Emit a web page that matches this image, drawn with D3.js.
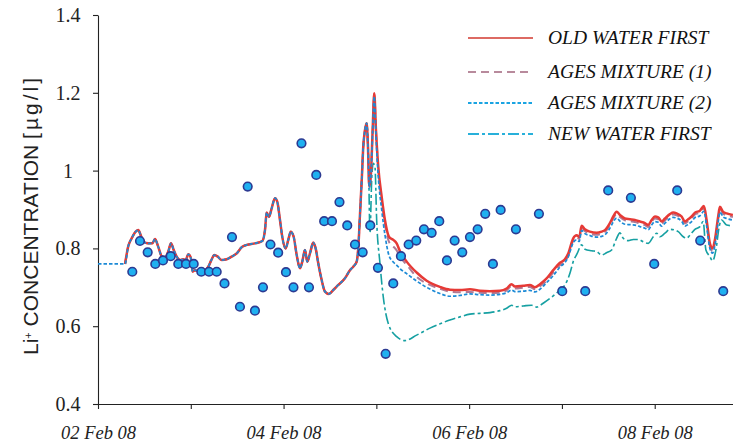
<!DOCTYPE html>
<html><head><meta charset="utf-8">
<script src="https://cdn.jsdelivr.net/npm/d3@7"></script>
<style>body{margin:0;background:#fff} svg{display:block}</style>
</head><body><svg id="c" width="733" height="443"></svg>
<script>
// ---- DATA (hours since 02 Feb 2008 00:00, Li+ concentration µg/l) ----
const yTicks = [0.4, 0.6, 0.8, 1.0, 1.2, 1.4];
const yTickLabels = ["0.4", "0.6", "0.8", "1", "1.2", "1.4"];
const dayTicks = ["2008-02-02","2008-02-03","2008-02-04","2008-02-05","2008-02-06","2008-02-07","2008-02-08"];
const dayTickLabels = ["02 Feb 08","","04 Feb 08","","06 Feb 08","","08 Feb 08"];
const seriesNames = ["OLD WATER FIRST","AGES MIXTURE (1)","AGES MIXTURE (2)","NEW WATER FIRST"];

// shared part of all simulated curves (before they diverge)
const sharedHours = [7.0,7.84,8.72,9.75,10.42,11.04,11.72,13.01,14.04,14.74,15.59,16.47,17.33,18.18,18.88,19.58,20.35,21.21,22.06,22.68,23.35,23.97,24.49,25.09,25.78,26.64,27.67,28.53,29.41,30.08,30.96,31.99,33.28,34.58,35.87,37.16,38.46,40.60,42.49,43.19,43.63,44.22,44.92,45.78,46.37,47.07,47.66,48.54,49.22,49.84,50.61,51.39,52.24,52.84,53.53,54.13,54.83,55.68,56.30,56.97,57.85,58.71,59.74,60.85,62.15,63.88,65.17,66.03,66.91,67.37,67.76,68.28,68.61,69.05,69.49];
const sharedValues = [0.760,0.806,0.826,0.843,0.847,0.834,0.817,0.813,0.813,0.824,0.804,0.780,0.777,0.792,0.813,0.796,0.779,0.770,0.772,0.770,0.785,0.777,0.740,0.744,0.742,0.744,0.744,0.753,0.772,0.783,0.779,0.770,0.772,0.779,0.787,0.803,0.809,0.813,0.819,0.847,0.892,0.881,0.903,0.929,0.920,0.873,0.830,0.800,0.822,0.843,0.830,0.783,0.749,0.766,0.796,0.766,0.787,0.815,0.800,0.762,0.719,0.689,0.683,0.693,0.706,0.723,0.744,0.753,0.766,0.809,0.886,0.989,1.061,1.104,1.122];

// AGES MIXTURE (2) starts earlier with a flat initial value
const mix2LeadHours = [0, 7.0];
const mix2LeadValues = [0.760, 0.760];

// tails after divergence
const tailHours = [69.83,70.16,70.60,71.04,71.46,71.90,72.49,73.37,74.22,75.26,76.37,77.25,78.10,79.84,82.42,85.01,88.45,91.03,93.62,96.21,98.79,101.38,103.97,105.70,106.99,107.84,109.99,111.72,113.02,114.31,116.04,117.75,119.48,120.78,121.63,122.92,123.80,124.48,125.09,125.95,127.24,128.97,130.27,131.12,132.41,133.27,134.15,135.00,136.29,137.59,138.88,140.17,141.47,142.32,143.20,144.05,144.91,145.79,146.64,147.93,148.79,149.67,150.96,151.81,152.66,153.54,154.40,155.69,156.72,157.42,158.27,158.97,159.57,160.42,160.86,161.71,162.59,164.22];
const oldTail = [1.061,0.959,0.993,1.104,1.199,1.104,1.010,0.933,0.873,0.830,0.822,0.813,0.793,0.766,0.738,0.717,0.701,0.694,0.693,0.695,0.691,0.690,0.691,0.697,0.708,0.702,0.704,0.706,0.700,0.708,0.723,0.744,0.763,0.772,0.787,0.826,0.834,0.829,0.858,0.849,0.843,0.840,0.843,0.847,0.865,0.882,0.894,0.886,0.877,0.875,0.873,0.869,0.865,0.860,0.873,0.882,0.880,0.869,0.877,0.888,0.892,0.890,0.882,0.869,0.875,0.882,0.892,0.897,0.909,0.873,0.813,0.800,0.822,0.882,0.907,0.894,0.890,0.886];
const mix1Tail = [1.061,0.959,0.993,1.104,1.197,1.104,1.005,0.925,0.862,0.817,0.805,0.795,0.779,0.758,0.727,0.710,0.696,0.689,0.687,0.688,0.686,0.685,0.686,0.692,0.703,0.697,0.699,0.701,0.695,0.703,0.717,0.738,0.757,0.766,0.781,0.820,0.829,0.824,0.853,0.844,0.838,0.835,0.838,0.842,0.860,0.877,0.889,0.881,0.872,0.870,0.868,0.864,0.860,0.855,0.868,0.877,0.875,0.864,0.872,0.883,0.887,0.885,0.877,0.864,0.870,0.877,0.887,0.892,0.904,0.866,0.806,0.793,0.815,0.877,0.902,0.889,0.885,0.881];
const mix2Tail = [1.061,0.955,0.990,1.100,1.190,1.090,0.985,0.900,0.835,0.782,0.765,0.757,0.748,0.735,0.716,0.700,0.684,0.677,0.679,0.683,0.681,0.680,0.682,0.686,0.693,0.689,0.690,0.692,0.688,0.695,0.712,0.730,0.752,0.764,0.778,0.815,0.822,0.818,0.846,0.838,0.833,0.829,0.831,0.835,0.852,0.868,0.878,0.870,0.862,0.861,0.860,0.856,0.852,0.848,0.860,0.869,0.867,0.857,0.865,0.876,0.880,0.878,0.870,0.857,0.862,0.869,0.879,0.884,0.895,0.858,0.800,0.788,0.808,0.868,0.893,0.881,0.877,0.873];
const newTailHours = [69.92,70.35,70.79,71.20,71.64,72.08,72.93,73.78,75.08,77.25,79.40,82.42,85.86,88.45,91.03,93.62,96.21,98.79,101.38,103.97,105.70,106.99,107.84,109.99,112.16,113.45,115.16,117.75,119.48,120.78,122.07,122.92,123.96,125.09,125.95,127.68,128.97,130.27,131.56,132.85,134.15,135.00,135.86,137.15,138.45,139.74,141.04,142.33,143.62,144.50,145.36,146.65,147.94,149.24,150.09,151.38,152.26,153.11,154.40,155.69,156.54,157.24,158.28,158.97,159.83,160.68,161.30,162.59,164.22];
const newTail = [1.053,0.840,0.976,1.019,1.010,0.873,0.762,0.676,0.607,0.573,0.563,0.577,0.595,0.606,0.616,0.624,0.631,0.633,0.635,0.640,0.646,0.654,0.650,0.652,0.654,0.649,0.659,0.678,0.693,0.706,0.736,0.766,0.787,0.809,0.798,0.794,0.792,0.783,0.789,0.796,0.826,0.840,0.826,0.820,0.823,0.823,0.817,0.813,0.830,0.839,0.830,0.839,0.849,0.847,0.843,0.830,0.826,0.834,0.849,0.856,0.869,0.796,0.779,0.768,0.796,0.856,0.873,0.860,0.858];

// measured samples
const obsHours = [8.87,10.86,12.85,14.82,16.81,18.80,20.77,22.76,24.75,26.72,28.71,30.70,32.72,34.66,36.72,38.72,40.60,42.67,44.61,46.60,48.62,50.56,52.63,54.57,56.46,58.50,60.52,62.46,64.47,66.47,68.46,70.42,72.41,74.40,76.37,78.36,80.35,82.32,84.31,86.30,88.27,90.26,92.25,94.22,96.21,98.20,100.16,102.15,104.15,108.10,114.05,120.08,126.03,131.97,137.84,143.87,149.82,155.77,161.72];
const obsValues = [0.740,0.819,0.790,0.760,0.769,0.780,0.760,0.760,0.760,0.740,0.740,0.740,0.710,0.829,0.650,0.959,0.640,0.700,0.810,0.789,0.739,0.700,1.070,0.700,0.989,0.870,0.870,0.919,0.859,0.810,0.790,0.859,0.750,0.529,0.710,0.780,0.810,0.820,0.849,0.840,0.870,0.769,0.820,0.790,0.829,0.849,0.889,0.760,0.899,0.849,0.889,0.690,0.690,0.949,0.930,0.760,0.949,0.820,0.690];

// ---- BUILD ----
const t0 = Date.UTC(2008, 1, 2);
const toDate = h => new Date(t0 + h * 3600e3);
const zip = (hs, vs) => hs.map((h, i) => ({t: toDate(h), v: vs[i]}));
const shared = zip(sharedHours, sharedValues);
const series = [
  {name: seriesNames[0], data: shared.concat(zip(tailHours, oldTail)), color: "#e63a36", legendColor: "#dd6a63", width: 2.5, dash: null},
  {name: seriesNames[1], data: shared.concat(zip(tailHours, mix1Tail)), color: "#b07a95", legendColor: "#b88a9c", width: 2.0, dash: "8,5"},
  {name: seriesNames[2], data: zip(mix2LeadHours, mix2LeadValues).concat(shared, zip(tailHours, mix2Tail)), color: "#1c8ad6", legendColor: "#1aa4e2", width: 1.7, dash: "3.5,2"},
  {name: seriesNames[3], data: shared.concat(zip(newTailHours, newTail)), color: "#16a0a2", legendColor: "#28b0da", width: 1.6, dash: "11,3,3,3"}
];

const svg = d3.select("#c");
const x = d3.scaleUtc().domain([toDate(0), toDate(164.25)]).range([98, 733]);
const y = d3.scaleLinear().domain([0.4, 1.4]).range([404, 15]);

// axes
const yAxis = d3.axisLeft(y).tickValues(yTicks).tickSize(5).tickSizeOuter(0)
  .tickFormat((d, i) => yTickLabels[i]);
const gy = svg.append("g").attr("transform", "translate(98,0)").call(yAxis);
gy.selectAll("path,line").attr("stroke", "#222").attr("stroke-width", 1.1);
gy.selectAll("text").attr("x", -30).attr("text-anchor", "middle")
  .attr("font-family", "Liberation Serif, Times New Roman, serif").attr("font-size", 20).attr("fill", "#222");

const dayDates = dayTicks.map(s => new Date(s + "T00:00:00Z"));
const xAxis = d3.axisBottom(x).tickValues(dayDates).tickSize(5).tickSizeOuter(0)
  .tickFormat((d, i) => dayTickLabels[i]);
const gx = svg.append("g").attr("transform", "translate(0,404)").call(xAxis);
gx.selectAll("path,line").attr("stroke", "#222").attr("stroke-width", 1.1);
gx.selectAll("text").attr("y", 35).attr("dy", 0)
  .attr("font-family", "Liberation Serif, Times New Roman, serif").attr("font-style", "italic")
  .attr("font-size", 18.5).attr("fill", "#222");

// y title
const title = svg.append("text").attr("transform", "translate(38,215) rotate(-90)")
  .attr("text-anchor", "middle").attr("font-family", "Liberation Sans, Arial, sans-serif")
  .attr("font-size", 21).attr("fill", "#222");
title.append("tspan").text("Li");
title.append("tspan").attr("baseline-shift", "super").attr("font-size", 11).text("+");
title.append("tspan").attr("baseline-shift", "0").text(" CONCENTRATION ");
title.append("tspan").attr("letter-spacing", 3).text("[µg/l]");

// lines (bottom to top)
const line = d3.line().x(d => x(d.t)).y(d => y(d.v)).curve(d3.curveMonotoneX);
const drawOrder = [3, 1, 0, 2];
drawOrder.forEach(i => {
  const s = series[i];
  svg.append("path").datum(s.data).attr("d", line).attr("fill", "none")
    .attr("stroke", s.color).attr("stroke-width", s.width)
    .attr("stroke-dasharray", s.dash).attr("stroke-linejoin", "round");
});

// observations
svg.append("g").selectAll("circle").data(zip(obsHours, obsValues)).join("circle")
  .attr("cx", d => x(d.t)).attr("cy", d => y(d.v)).attr("r", 4.3)
  .attr("fill", "#1fb0f0").attr("stroke", "#2c3a92").attr("stroke-width", 1.6);

// legend
const legendRowY = [38, 72, 103, 134];
const lg = svg.append("g");
series.forEach((s, i) => {
  lg.append("line").attr("x1", 468).attr("x2", 533).attr("y1", legendRowY[i]).attr("y2", legendRowY[i])
    .attr("stroke", s.legendColor).attr("stroke-width", 1.8).attr("stroke-dasharray", s.dash);
  lg.append("text").attr("x", 548).attr("y", legendRowY[i] + 6)
    .attr("font-family", "Liberation Serif, Times New Roman, serif").attr("font-style", "italic")
    .attr("font-size", 19.5).attr("fill", "#111").text(s.name);
});
</script></body></html>
